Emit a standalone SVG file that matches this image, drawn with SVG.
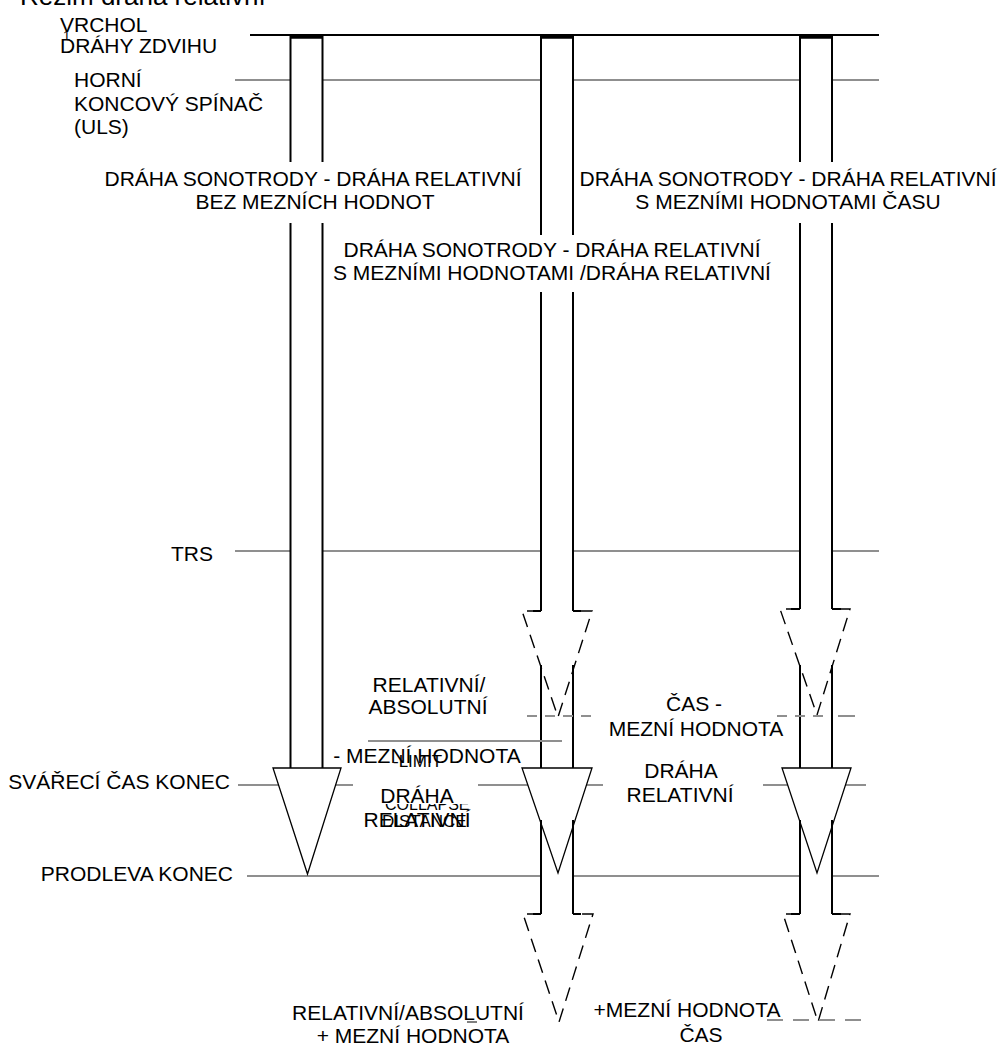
<svg xmlns="http://www.w3.org/2000/svg" width="1005" height="1046" viewBox="0 0 1005 1046">
<style>
text{font-family:"Liberation Sans",Arial,sans-serif;font-size:21px;fill:#000}
.g{stroke:#8f8f8f;stroke-width:2;fill:none}
.gd{stroke:#8f8f8f;stroke-width:2;fill:none;stroke-dasharray:10 8}
.gd2{stroke:#8f8f8f;stroke-width:2;fill:none;stroke-dasharray:16 10}
.fill{fill:#fff;stroke:none}
.side{stroke:#000;stroke-width:2;fill:none}
.top{stroke:#000;stroke-width:3.5;fill:none}
.head{fill:#fff;stroke:#000;stroke-width:1.3}
.dh{fill:none;stroke:#000;stroke-width:1.4;stroke-dasharray:14 8}
.m{text-anchor:middle}
.e{text-anchor:end}
.s{font-size:16px}
.bg{fill:#fff;stroke:none}
</style>
<defs>
<clipPath id="clipCol"><rect x="370" y="804" width="120" height="10"/></clipPath>
</defs>
<rect width="1005" height="1046" fill="#fff"/>

<g id="connectors">
  <line class="g" x1="235" y1="80" x2="879" y2="80"/>
  <line class="g" x1="235" y1="551" x2="879" y2="551"/>
  <line class="g" x1="238" y1="785" x2="353" y2="785"/>
  <line class="g" x1="478" y1="785" x2="603" y2="785"/>
  <line class="g" x1="763" y1="785" x2="866" y2="785"/>
  <line class="g" x1="247" y1="876" x2="879" y2="876"/>
  <line stroke="#000" stroke-width="1.8" x1="250" y1="35" x2="879" y2="35"/>

  <rect class="fill" x="290.5" y="36" width="32" height="732"/>
  <rect class="fill" x="541" y="36" width="32" height="575"/>
  <rect class="fill" x="541" y="665" width="32" height="103"/>
  <rect class="fill" x="541" y="820" width="32" height="94"/>
  <rect class="fill" x="800" y="36" width="32" height="573"/>
  <rect class="fill" x="800" y="665" width="32" height="103"/>
  <rect class="fill" x="800" y="820" width="32" height="94"/>
</g>

<g id="arrow-1">
  <polygon class="head" points="290.5,768 273,768 307.5,874 341,768 322.5,768"/>
  <path class="side" d="M290.5,36 V768 M322.5,36 V768"/>
  <line class="top" x1="290.5" y1="37" x2="322.5" y2="37"/>
</g>

<g id="arrow-2">
  <path class="dh" d="M541,611 H522 L558,717 L592,611 H573"/>
  <polygon class="head" points="541,768 522,768 558,873 592,768 573,768"/>
  <path class="dh" d="M541,914 H523 L559,1022 L593,914 H573"/>
  <path class="side" d="M541,36 V611 M573,36 V611 M541,665 V768 M573,665 V768 M541,820 V914 M573,820 V914"/>
  <path class="side" d="M541,611 H533 M573,611 H581"/>
  <path class="side" d="M541,914 H533 M573,914 H581"/>
  <line class="top" x1="541" y1="37" x2="573" y2="37"/>
</g>

<g id="arrow-3">
  <path class="dh" d="M800,609 H780 L817,715 L850,609 H832"/>
  <polygon class="head" points="800,768 782,768 817,873 851,768 832,768"/>
  <path class="dh" d="M800,914 H783 L818,1022 L850,914 H832"/>
  <path class="side" d="M800,36 V609 M832,36 V609 M800,665 V768 M832,665 V768 M800,820 V914 M832,820 V914"/>
  <path class="side" d="M800,609 H791 M832,609 H841"/>
  <path class="side" d="M800,914 H791 M832,914 H841"/>
  <line class="top" x1="800" y1="37" x2="832" y2="37"/>
</g>

<g id="limit-lines">
  <line class="g" x1="368" y1="741" x2="562" y2="741"/>
  <line class="gd" x1="527" y1="716" x2="597" y2="716"/>
  <line class="gd" x1="777" y1="716" x2="830" y2="716"/>
  <line class="g" x1="838" y1="716" x2="855" y2="716"/>
  <line class="gd2" x1="767" y1="1020" x2="865" y2="1020"/>
  <line stroke="#555" stroke-width="1.5" x1="467" y1="1022" x2="477" y2="1022"/>
</g>

<g id="title"><text x="20" y="5" style="font-size:26px">Režim dráha relativní</text></g>

<g id="label-vrchol">
  <text x="60" y="32">VRCHOL</text>
  <text x="60" y="53">DRÁHY ZDVIHU</text>
  <text x="63" y="40" style="font-size:13px">1</text>
</g>
<g id="label-uls">
  <text x="74" y="87">HORNÍ</text>
  <text x="74" y="111">KONCOVÝ SPÍNAČ</text>
  <text x="74" y="134">(ULS)</text>
</g>
<g id="label-trs"><text class="e" x="213" y="561">TRS</text></g>
<g id="label-weld"><text class="e" x="230" y="789">SVÁŘECÍ ČAS KONEC</text></g>
<g id="label-hold"><text class="e" x="233" y="881">PRODLEVA KONEC</text></g>

<g id="label-col1">
  <rect class="bg" x="100" y="162" width="426" height="61"/>
  <text class="m" x="313" y="186">DRÁHA SONOTRODY - DRÁHA RELATIVNÍ</text>
  <text class="m" x="315" y="209">BEZ MEZNÍCH HODNOT</text>
</g>
<g id="label-col2">
  <rect class="bg" x="326" y="235" width="452" height="57"/>
  <text class="m" x="552" y="257">DRÁHA SONOTRODY - DRÁHA RELATIVNÍ</text>
  <text class="m" x="552" y="280">S MEZNÍMI HODNOTAMI /DRÁHA RELATIVNÍ</text>
</g>
<g id="label-col3">
  <rect class="bg" x="577" y="162" width="424" height="61"/>
  <text class="m" x="788" y="186">DRÁHA SONOTRODY - DRÁHA RELATIVNÍ</text>
  <text class="m" x="788" y="209">S MEZNÍMI HODNOTAMI ČASU</text>
</g>

<g id="label-relabs">
  <text class="m" x="429" y="692">RELATIVNÍ/</text>
  <text class="m" x="428" y="714">ABSOLUTNÍ</text>
</g>
<g id="label-minus-limit">
  <text class="m" x="427" y="763">- MEZNÍ HODNOTA</text>
  <text x="393" y="767" style="font-size:17px">-LIMIT</text>
</g>
<g id="label-drah-rel-1">
  <text x="385" y="810" class="s" clip-path="url(#clipCol)">COLLAPSE</text>
  <text class="m" x="417" y="803">DRÁHA</text>
  <text class="m" x="417" y="827">RELATIVNÍ</text>
  <text x="382" y="827" style="font-size:17px">DISTANCE</text>
</g>
<g id="label-time-limit">
  <text class="m" x="694" y="711">ČAS -</text>
  <text class="m" x="696" y="736">MEZNÍ HODNOTA</text>
</g>
<g id="label-drah-rel-2">
  <text class="m" x="681" y="778">DRÁHA</text>
  <text class="m" x="680" y="802">RELATIVNÍ</text>
</g>
<g id="label-relabs-plus">
  <text class="m" x="408" y="1020">RELATIVNÍ/ABSOLUTNÍ</text>
  <text class="m" x="413" y="1043">+ MEZNÍ HODNOTA</text>
</g>
<g id="label-plus-time">
  <text class="m" x="687" y="1017">+MEZNÍ HODNOTA</text>
  <text class="m" x="701" y="1042">ČAS</text>
</g>
</svg>
